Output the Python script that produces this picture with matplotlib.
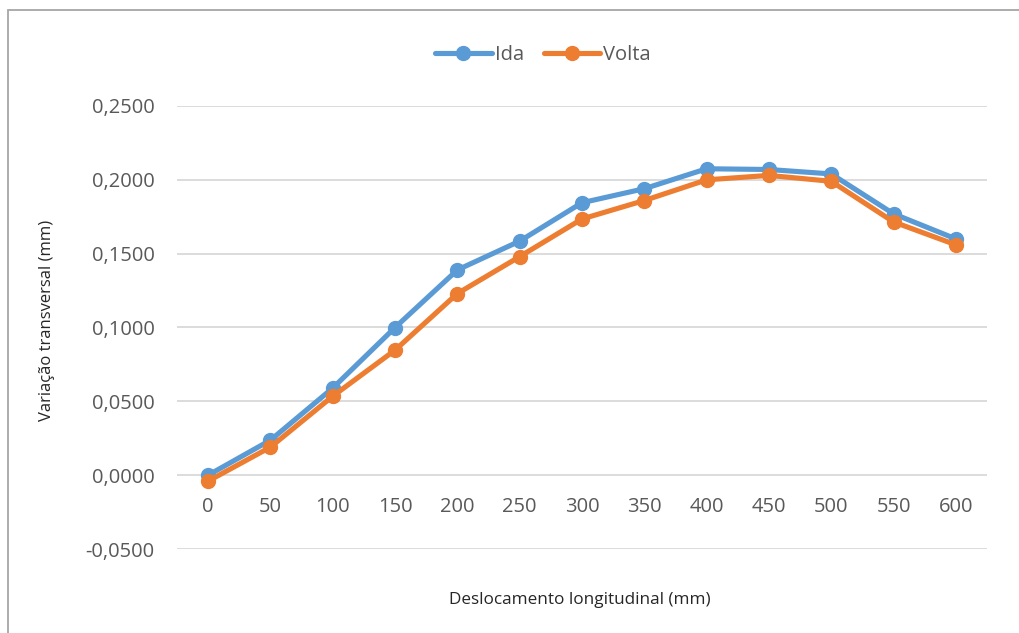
import numpy as np
import matplotlib
matplotlib.use('Agg')
from matplotlib import pyplot as plt
from matplotlib.patches import Rectangle
from matplotlib.ticker import FuncFormatter

# longitudinal positions (mm) and measured transverse variation (mm)
positions = [0, 50, 100, 150, 200, 250, 300, 350, 400, 450, 500, 550, 600]
ida = [0.0000, 0.0237, 0.0590, 0.1000, 0.1390, 0.1585, 0.1845, 0.1940, 0.2075,
       0.2070, 0.2040, 0.1770, 0.1600]
volta = [-0.0040, 0.0190, 0.0535, 0.0847, 0.1230, 0.1480, 0.1735, 0.1860, 0.2000,
         0.2030, 0.1990, 0.1715, 0.1560]

BLUE = '#5B9BD5'
ORANGE = '#ED7D31'
TEXT = '#595959'

plt.rcParams['font.family'] = ['Open Sans', 'DejaVu Sans']

W, H = 1019, 633
fig = plt.figure(figsize=(W / 100, H / 100), dpi=100)

# chart frame, cut off at the right and bottom
fig.patches.append(Rectangle((8 / W, -0.1), 1.2, 1 - 10 / H + 0.1,
                             transform=fig.transFigure, fill=False,
                             edgecolor='#A6A6A6', linewidth=1.3))

ax = fig.add_axes([177 / W, 1 - 549 / H, (987 - 177) / W, (549 - 106) / H])

x = np.arange(len(positions))
ax.plot(x, ida, color=BLUE, linewidth=3.7, marker='o', markersize=10,
        label='Ida', solid_capstyle='round', zorder=3)
ax.plot(x, volta, color=ORANGE, linewidth=3.7, marker='o', markersize=10,
        label='Volta', solid_capstyle='round', zorder=4)

ax.set_xlim(-0.5, len(positions) - 0.5)
ax.set_ylim(-0.05, 0.25)
ax.set_yticks(np.arange(-0.05, 0.2501, 0.05))
ax.yaxis.set_major_formatter(FuncFormatter(lambda v, _: f'{v:.4f}'.replace('.', ',')))
ax.grid(axis='y', color='#D9D9D9', linewidth=1.3)
ax.set_axisbelow(True)

# category labels sit just below the zero line
ax.set_xticks(x)
ax.set_xticklabels([str(p) for p in positions])
ax.spines['bottom'].set_position(('data', 0))
for side in ['top', 'right', 'left', 'bottom']:
    ax.spines[side].set_visible(False)
ax.tick_params(axis='both', length=0, labelsize=14.5, colors=TEXT)
ax.tick_params(axis='x', pad=16)
ax.tick_params(axis='y', pad=16)

fig.text(580 / W, 1 - 600 / H, 'Deslocamento longitudinal (mm)', ha='center',
         va='center', fontsize=12.3, color='#262626')
fig.text(47 / W, 1 - 320 / H, 'Variação transversal (mm)', ha='center',
         va='center', rotation=90, fontsize=12, color='#262626')

ax.legend(loc='center', bbox_to_anchor=(543 / W, 1 - 55 / H),
          bbox_transform=fig.transFigure, ncol=2, frameon=False,
          fontsize=14.5, labelcolor=TEXT, handlelength=2.8, handletextpad=0.15,
          columnspacing=1.0)

fig.savefig('out.png', dpi=100)
